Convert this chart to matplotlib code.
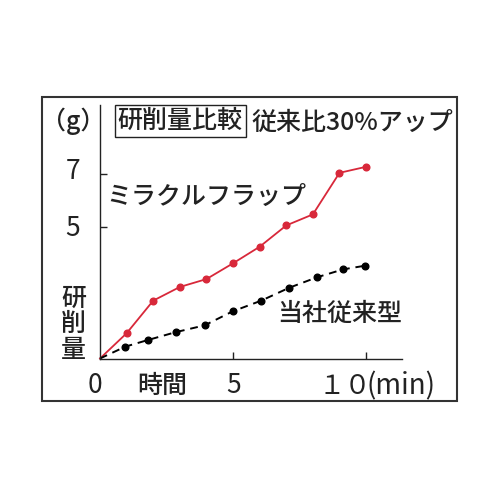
import matplotlib

matplotlib.use("Agg")
import matplotlib.pyplot as plt
from matplotlib.patches import Rectangle

plt.rcParams["font.family"] = ["Noto Sans CJK JP", "DejaVu Sans"]

# grinding amount (g) over time (min)
miracle_x = [0, 1, 2, 3, 4, 5, 6, 7, 8, 9, 10]
miracle_y = [0, 0.96, 2.2, 2.72, 3.02, 3.62, 4.25, 5.06, 5.48, 7.06, 7.29]
old_x = [0, 0.95, 1.79, 2.84, 3.93, 4.98, 6.06, 7.11, 8.16, 9.14, 9.97]
old_y = [0, 0.45, 0.70, 1.0, 1.26, 1.79, 2.2, 2.69, 3.09, 3.39, 3.53]
y_ticks = [5, 7]
x_ticks = [5, 10]

RED = "#d8283a"
INK = "#222222"
FS = 18

fig = plt.figure(figsize=(5, 5), dpi=100)
ax = fig.add_axes([0.2, 0.283, 0.604, 0.507])
ax.set_xlim(0, 11.35)
ax.set_ylim(0, 9.64)
for side in ("top", "right"):
    ax.spines[side].set_visible(False)
for side in ("left", "bottom"):
    ax.spines[side].set_color(INK)
    ax.spines[side].set_linewidth(1.0)
ax.set_xticks(x_ticks)
ax.set_yticks(y_ticks)
ax.set_xticklabels([])
ax.set_yticklabels([])
ax.tick_params(direction="in", length=5, width=1.0, color=INK)

ax.plot(miracle_x, miracle_y, color=RED, lw=1.3, marker="o", ms=4.8,
        markevery=slice(1, None), clip_on=False)
ax.plot(old_x, old_y, color="black", lw=1.4, ls=(0, (4, 3)), marker="o", ms=4.8,
        markevery=slice(1, None), clip_on=False)

txt = dict(fontsize=FS, color=INK, va="center", fontweight="medium")
# tick labels and axis captions
ax.text(-1.02, 7.12, "7", ha="center", clip_on=False, **dict(txt, fontsize=19, fontweight="normal"))
ax.text(-1.02, 4.95, "5", ha="center", clip_on=False, **dict(txt, fontsize=19, fontweight="normal"))
ax.text(-0.19, -1.03, "0", ha="center", clip_on=False, **dict(txt, fontsize=19, fontweight="normal"))
ax.text(5.01, -1.03, "5", ha="center", clip_on=False, **dict(txt, fontsize=19, fontweight="normal"))
ax.text(8.2, -1.05, "１０", ha="left", clip_on=False, **dict(txt, fontsize=19, fontweight="normal"))
ax.text(10.0, -1.05, "(min)", ha="left", clip_on=False, **dict(txt, fontsize=20, fontweight="normal"))
ax.text(2.33, -1.05, "時間", ha="center", clip_on=False, **txt)
ax.text(-1.02, 9.03, "（g）", ha="center", clip_on=False, **txt)
for i, ch in enumerate("研削量"):
    ax.text(-0.99, 2.27 - i * 0.97, ch, ha="center", clip_on=False, **txt)

# series labels
ax.text(0.25, 6.16, "ミラクルフラップ", ha="left", **txt)
ax.text(6.65, 1.69, "当社従来型", ha="left", **txt)

# heading
fig.text(0.36, 0.758, "研削量比較", ha="center", va="center", fontsize=FS, color=INK,
         fontweight="medium",
         bbox=dict(boxstyle="square,pad=0.12", fc="white", ec=INK, lw=1.0))
fig.text(0.503, 0.754, "従来比30%アップ", ha="left", va="center", fontsize=FS, color=INK,
         fontweight="medium")

# outer frame
fig.patches.append(Rectangle((0.084, 0.198), 0.83, 0.608, transform=fig.transFigure,
                             fill=False, ec="#333333", lw=1.5))

fig.savefig("out.png", dpi=100)
